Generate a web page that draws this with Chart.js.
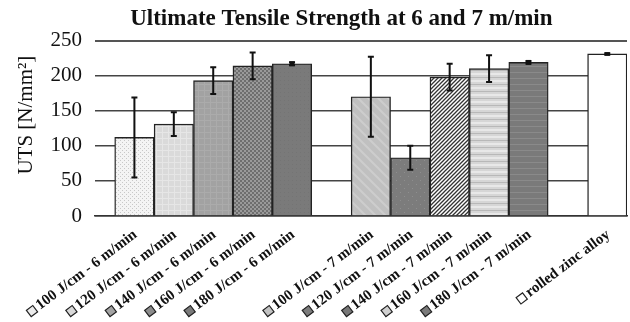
<!DOCTYPE html>
<html>
<head>
<meta charset="utf-8">
<script src="https://cdn.jsdelivr.net/npm/chart.js@4"></script>
<style>
  html, body { margin: 0; padding: 0; background: #fff; }
  #wrap { width: 630px; height: 322px; }
</style>
</head>
<body>
<div id="wrap"><canvas id="chart" width="630" height="322"></canvas></div>
<script>
// data (blank entries are the gaps between groups)
const categories = [
  '100 J/cm - 6 m/min', '120 J/cm - 6 m/min', '140 J/cm - 6 m/min', '160 J/cm - 6 m/min', '180 J/cm - 6 m/min',
  '',
  '100 J/cm - 7 m/min', '120 J/cm - 7 m/min', '140 J/cm - 7 m/min', '160 J/cm - 7 m/min', '180 J/cm - 7 m/min',
  '',
  'rolled zinc alloy'
];
const uts    = [112, 131, 193, 214, 217, null, 170, 83, 198, 210, 219, null, 231];
const utsErr = [ 57,  17,  19,  19,   2, null,  57, 17,  19,  19,   2, null,   1];
const yTicks = [0, 50, 100, 150, 200, 250];

// fill patterns, one per bar
function pattern(w, h, base, draw) {
  const c = document.createElement('canvas');
  c.width = w; c.height = h;
  const g = c.getContext('2d');
  g.fillStyle = base;
  g.fillRect(0, 0, w, h);
  if (draw) draw(g);
  return g.createPattern(c, 'repeat');
}
const swatch = ['#ececec', '#d9d9d9', '#a3a3a3', '#8c8c8c', '#7a7a7a', null,
                '#c2c2c2', '#7c7c7c', '#777777', '#d0d0d0', '#7a7a7a', null, '#ffffff'];
const fills = [
  pattern(4, 4, '#f4f4f4', g => { g.fillStyle = '#c8c8c8'; g.fillRect(0, 0, 1, 1); g.fillRect(2, 2, 1, 1); }),
  pattern(6, 6, '#dadada', g => { g.fillStyle = '#e6e6e6'; g.fillRect(0, 0, 6, 1); g.fillRect(0, 0, 1, 6); }),
  pattern(6, 6, '#a2a2a2', g => { g.fillStyle = '#ababab'; g.fillRect(0, 0, 6, 1); g.fillRect(0, 0, 1, 6); }),
  pattern(4, 4, '#9a9a9a', g => { g.fillStyle = '#6e6e6e'; g.fillRect(0, 0, 2, 2); g.fillRect(2, 2, 2, 2); }),
  pattern(4, 4, '#7a7a7a', g => { g.fillStyle = '#747474'; g.fillRect(0, 0, 1, 1); }),
  null,
  pattern(10, 10, '#c0c0c0', g => { g.strokeStyle = '#cdcdcd'; g.lineWidth = 2;
    g.beginPath(); g.moveTo(0, 0); g.lineTo(10, 10); g.moveTo(-5, 5); g.lineTo(5, 15); g.moveTo(5, -5); g.lineTo(15, 5); g.stroke(); }),
  pattern(8, 8, '#7c7c7c', g => { g.fillStyle = '#8e8e8e'; g.fillRect(0, 0, 1, 1); g.fillRect(4, 4, 1, 1); }),
  pattern(4, 4, '#ffffff', g => { g.strokeStyle = '#333'; g.lineWidth = 1.3;
    g.beginPath(); g.moveTo(0, 4); g.lineTo(4, 0); g.moveTo(-1, 1); g.lineTo(1, -1); g.moveTo(3, 5); g.lineTo(5, 3); g.stroke(); }),
  pattern(7, 7, '#d6d6d6', g => { g.fillStyle = '#b8b8b8'; g.fillRect(0, 0, 7, 1); g.fillStyle = '#e8e8e8'; g.fillRect(0, 3, 7, 2); }),
  pattern(6, 6, '#7a7a7a', g => { g.fillStyle = '#8a8a8a'; g.fillRect(0, 0, 6, 1); }),
  null,
  '#ffffff'
];

const errorBars = {
  id: 'errorBars',
  afterDatasetsDraw(chart) {
    const { ctx, scales: { x, y } } = chart;
    ctx.save();
    ctx.strokeStyle = '#111';
    ctx.fillStyle = '#111';
    ctx.lineWidth = 2;
    uts.forEach((v, i) => {
      if (v == null) return;
      const px = x.getPixelForValue(i);
      const top = y.getPixelForValue(v + utsErr[i]);
      const bot = y.getPixelForValue(v - utsErr[i]);
      ctx.beginPath();
      ctx.moveTo(px, top); ctx.lineTo(px, bot);
      ctx.moveTo(px - 3, top); ctx.lineTo(px + 3, top);
      ctx.moveTo(px - 3, bot); ctx.lineTo(px + 3, bot);
      ctx.stroke();
      if (bot - top < 5) {
        ctx.fillRect(px - 2.5, top - 1, 5, bot - top + 2);
      }
    });
    ctx.restore();
  }
};

// little key squares in front of each x label
const labelKeys = {
  id: 'labelKeys',
  afterDraw(chart) {
    const x = chart.scales.x;
    const { ctx } = chart;
    x.getLabelItems().forEach((item, n) => {
      const idx = x.ticks[n].value;
      if (!categories[idx]) return;
      ctx.save();
      ctx.font = item.font.string;
      const w = ctx.measureText(item.label).width;
      const [tx, ty] = item.options.translation;
      ctx.translate(tx, ty);
      ctx.rotate(item.options.rotation);
      const s = 8;
      const cx = -w - 3 - s / 2, cy = item.textOffset;
      ctx.fillStyle = swatch[idx];
      ctx.strokeStyle = '#222';
      ctx.lineWidth = 1.2;
      ctx.fillRect(cx - s / 2, cy - s / 2, s, s);
      ctx.strokeRect(cx - s / 2, cy - s / 2, s, s);
      ctx.restore();
    });
  }
};

new Chart(document.getElementById('chart'), {
  type: 'bar',
  data: {
    datasets: [{
      data: uts.map((v, i) => ({ x: i, y: v })),
      backgroundColor: fills,
      borderColor: '#222',
      borderWidth: 1.4,
      barPercentage: 1,
      categoryPercentage: 1
    }]
  },
  plugins: [errorBars, labelKeys],
  options: {
    responsive: false,
    animation: false,
    layout: { padding: { left: 4, right: 3, top: 0, bottom: 0 } },
    plugins: {
      legend: { display: false },
      tooltip: { enabled: false },
      title: {
        display: true,
        text: '         Ultimate Tensile Strength at 6 and 7 m/min',
        color: '#111',
        font: { family: 'Liberation Serif', size: 23, weight: 'bold', lineHeight: 1.2 },
        padding: { top: 5, bottom: 8 }
      }
    },
    scales: {
      x: {
        type: 'linear',
        offset: false,
        min: -1,
        max: 12.5,
        afterBuildTicks: axis => { axis.ticks = categories.map((c, i) => ({ value: i })); },
        afterFit: axis => { axis.height = 106; },
        grid: { display: false },
        border: { display: true, color: '#333', width: 1.5 },
        ticks: {
          autoSkip: false,
          minRotation: 37,
          maxRotation: 37,
          padding: 2,
          labelOffset: 1,
          color: '#111',
          font: { family: 'Liberation Serif', size: 15, weight: 'bold' },
          callback: v => categories[v] || ''
        }
      },
      y: {
        min: 0,
        max: 250,
        afterBuildTicks: axis => { axis.ticks = yTicks.map(v => ({ value: v })); },
        afterFit: axis => { axis.width = 91; },
        border: { display: false },
        grid: {
          drawTicks: false,
          color: ctx => ctx.tick.value === 250 ? '#555' : '#444',
          lineWidth: ctx => ctx.tick.value === 250 ? 2 : 1.5
        },
        ticks: {
          padding: 13,
          color: '#111',
          font: { family: 'Liberation Serif', size: 21 }
        },
        title: {
          display: true,
          text: '     UTS [N/mm²]',
          color: '#111',
          font: { family: 'Liberation Serif', size: 21 },
          padding: { top: 10, bottom: 0 }
        }
      }
    }
  }
});
</script>
</body>
</html>
